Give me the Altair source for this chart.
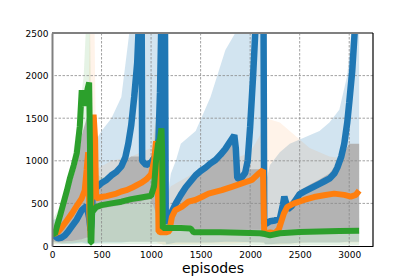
import altair as alt
import pandas as pd

x_ticks = [0, 500, 1000, 1500, 2000, 2500, 3000]
y_ticks = [0, 500, 1000, 1500, 2000, 2500]

# ---- mean curves ----
blue_ep = [0, 30, 60, 100, 130, 160, 200, 250, 300, 350, 375, 390, 400, 410, 450, 500, 550, 600, 650, 700,
           740, 770, 800, 830, 860, 880, 905, 910, 950, 1000, 1040, 1075, 1090, 1105, 1140, 1148, 1160, 1200,
           1250, 1300, 1350, 1400, 1450, 1500, 1550, 1600, 1650, 1700, 1750, 1800, 1840, 1855, 1870, 1900,
           1950, 1975, 2000, 2030, 2060, 2135, 2142, 2160, 2200, 2250, 2300, 2330, 2345, 2380, 2420, 2500,
           2550, 2600, 2650, 2700, 2750, 2800, 2850, 2880, 2920, 2950, 2980, 3000, 3030, 3060, 3100]
blue_val = [130, 115, 90, 100, 125, 165, 230, 310, 420, 470, 330, 180, 300, 620, 690, 740, 775, 830, 870, 935,
            1040, 1200, 1420, 1750, 2150, 2700, 2700, 1000, 950, 980, 1050, 1250, 1800, 2700, 2700, 300, 270, 380,
            500, 600, 690, 760, 830, 880, 920, 970, 1010, 1070, 1140, 1230, 1300, 1150, 800, 780,
            860, 1000, 1400, 2000, 2700, 2700, 260, 260, 290, 300, 320, 480, 580, 430, 470, 610,
            640, 670, 700, 730, 760, 790, 850, 920, 1050, 1200, 1450, 1680, 2050, 2600, 2700]

orange_ep = [0, 30, 60, 100, 150, 200, 250, 300, 330, 350, 365, 378, 392, 405, 420, 435, 445, 500, 550, 600,
             650, 700, 750, 800, 850, 900, 950, 1000, 1030, 1050, 1065, 1075, 1100, 1150, 1185, 1210, 1243,
             1310, 1377, 1445, 1512, 1580, 1647, 1714, 1815, 1916, 2017, 2085, 2130, 2142, 2160, 2200, 2250,
             2290, 2340, 2375, 2443, 2545, 2645, 2746, 2848, 2950, 3016, 3067, 3100]
orange_val = [160, 145, 165, 220, 300, 380, 470, 560, 650, 900, 1100, 350, 100, 1400, 1540, 1250, 560, 575, 585, 600,
              615, 640, 655, 680, 710, 740, 780, 840, 1000, 1230, 1100, 170, 160, 160, 175, 340, 420,
              460, 520, 540, 575, 615, 635, 655, 695, 735, 775, 850, 890, 150, 150, 160, 150,
              200, 380, 460, 500, 540, 575, 595, 615, 600, 580, 600, 650]

green_ep = [0, 30, 50, 80, 115, 150, 182, 220, 250, 280, 300, 310, 325, 345, 360, 375, 383, 390, 397, 405, 450,
            500, 600, 700, 800, 900, 1000, 1030, 1050, 1070, 1090, 1105, 1112, 1118, 1150, 1200, 1300, 1400,
            1430, 1500, 1700, 1900, 2100, 2150, 2200, 2300, 2500, 2700, 2900, 3100]
green_val = [150, 140, 230, 350, 500, 650, 800, 950, 1090, 1400, 1830, 1700, 1650, 1750, 1850, 1920, 1200, 40, 40, 400, 460,
             480, 500, 520, 550, 570, 590, 700, 1000, 1200, 1250, 1380, 1100, 210, 215, 210, 210, 205,
             160, 160, 160, 155, 150, 140, 125, 150, 165, 170, 175, 180]

# ---- light envelopes ----
blue_env_ep = [0, 100, 200, 300, 380, 420, 500, 600, 700, 780, 1145, 1155, 1200, 1250, 1300, 1450, 1600, 1750, 1850,
               2140, 2150, 2200, 2300, 2400, 2500, 2600, 2700, 2800, 2900, 2980, 3020, 3100]
blue_env_hi = [300, 350, 600, 900, 1100, 1200, 1350, 1500, 1750, 2500, 2500, 500, 850, 1000, 1200, 1350, 1750, 2300, 2500,
               2500, 700, 950, 1100, 1200, 1250, 1300, 1350, 1450, 1600, 2000, 2500, 2500]
blue_env_lo = [50, 30, 30, 40, 20, 30, 40, 40, 40, 50, 50, 20, 30, 40, 40, 40, 40, 50, 50,
               40, 20, 20, 30, 30, 40, 40, 40, 40, 40, 50, 50, 50]

orange_env_ep = [0, 100, 200, 300, 360, 380, 430, 445, 600, 800, 1000, 1050, 1080, 1100, 1200, 1500, 1800, 2000, 2100,
                 2145, 2160, 2300, 2450, 2600, 2800, 3100]
orange_env_hi = [250, 350, 600, 800, 1100, 2500, 2500, 900, 1000, 1050, 1150, 1500, 1500, 500, 700, 900, 1000, 1100, 1300,
                 1500, 1500, 1450, 1300, 1150, 1050, 1000]
orange_env_lo = [30, 30, 40, 50, 50, 50, 50, 50, 50, 50, 50, 50, 30, 20, 20, 30, 30, 40, 40,
                 30, 20, 20, 30, 40, 40, 40]

green_env_ep = [0, 100, 200, 280, 320, 340, 385, 400, 500, 1000, 1050, 1110, 1120, 1400, 1440, 2150, 2200, 3100]
green_env_hi = [300, 500, 1000, 1600, 2000, 2500, 2500, 900, 800, 900, 1500, 1600, 400, 380, 320, 320, 300, 330]
green_env_lo = [20, 20, 20, 20, 20, 20, 20, 20, 20, 20, 20, 20, 10, 10, 10, 10, 10, 10]

# ---- grey spread band ----
grey_ep = [0, 60, 100, 150, 200, 250, 300, 350, 380, 405, 450, 500, 600, 700, 740, 800, 900, 910, 1000, 1075, 1110,
           1150, 1200, 1300, 1400, 1450, 1500, 1600, 1700, 1800, 1850, 1870, 1950, 2000, 2140, 2150, 2200, 2300,
           2340, 2400, 2500, 2600, 2700, 2800, 2900, 2950, 3000, 3100]
grey_lo = [60, 50, 50, 60, 60, 70, 80, 100, 100, 380, 420, 440, 460, 480, 490, 500, 520, 530, 550, 300, 200,
           230, 250, 250, 240, 200, 190, 190, 190, 190, 190, 190, 190, 190, 190, 170, 160, 180,
           190, 190, 200, 200, 200, 200, 200, 200, 200, 200]
grey_hi = [150, 200, 320, 560, 760, 950, 1300, 1500, 1400, 600, 680, 730, 820, 920, 1000, 1050, 1050, 980, 970, 1050, 1000,
           300, 380, 600, 760, 830, 880, 970, 1070, 1230, 1200, 800, 860, 900, 900, 260, 290, 320,
           580, 520, 650, 720, 780, 850, 1000, 1100, 1200, 1200]

BLUE, ORANGE, GREEN = "#1f77b4", "#ff7f0e", "#2ca02c"

X = alt.Scale(domain=[0, 3240], nice=False, zero=False)
Y = alt.Scale(domain=[0, 2500], nice=False)

X_AXIS = alt.Axis(title="episodes", values=x_ticks, format="d", grid=False, ticks=False, domain=True,
                  domainColor="black", domainWidth=1.2, labelFlush=False, labelPadding=4,
                  titlePadding=2, zindex=1)
Y_AXIS = alt.Axis(title=None, values=y_ticks, format="d", grid=False, ticks=False, domain=True,
                  domainColor="#808080", domainWidth=2, labelPadding=4, zindex=1)


def xe(field):
    return alt.X(field, scale=X, axis=X_AXIS)


def ye(field):
    return alt.Y(field, scale=Y, axis=Y_AXIS)


def line_df(ep, val):
    return pd.DataFrame({"episode": ep, "value": val})


def band_df(ep, lo, hi):
    return pd.DataFrame({"episode": ep, "lo": lo, "hi": hi})


def band(df, color, opacity):
    return alt.Chart(df).mark_area(color=color, opacity=opacity, clip=True).encode(
        x=xe("episode:Q"), y=ye("lo:Q"), y2="hi:Q")


def line(df, color, w):
    return alt.Chart(df).mark_line(color=color, strokeWidth=w, clip=True, strokeJoin="bevel").encode(
        x=xe("episode:Q"), y=ye("value:Q"))


grid_x = alt.Chart(pd.DataFrame({"t": x_ticks[1:]})).mark_rule(
    color="#8a8a8a", strokeWidth=0.8, strokeDash=[2.5, 1.5]).encode(x=xe("t:Q"))
grid_y = alt.Chart(pd.DataFrame({"t": y_ticks[1:-1]})).mark_rule(
    color="#8a8a8a", strokeWidth=0.8, strokeDash=[2.5, 1.5]).encode(y=ye("t:Q"))

one = pd.DataFrame({"a": [0]})
top_spine = alt.Chart(one).mark_rule(color="#808080", strokeWidth=2).encode(y=alt.value(0))
right_spine = alt.Chart(one).mark_rule(color="black", strokeWidth=1.2).encode(x=alt.value(321))

chart = alt.layer(
    band(band_df(blue_env_ep, blue_env_lo, blue_env_hi), BLUE, 0.2),
    band(band_df(orange_env_ep, orange_env_lo, orange_env_hi), ORANGE, 0.09),
    band(band_df(green_env_ep, green_env_lo, green_env_hi), GREEN, 0.12),
    band(band_df(grey_ep, grey_lo, grey_hi), "#b3b3b3", 1.0),
    grid_x,
    grid_y,
    line(line_df(blue_ep, blue_val), BLUE, 6.5),
    line(line_df(orange_ep, orange_val), ORANGE, 6),
    line(line_df(green_ep, green_val), GREEN, 6),
    top_spine,
    right_spine,
).properties(
    width=321, height=213,
    padding={"left": 44, "top": 25, "right": 10, "bottom": 30},
    autosize=alt.AutoSizeParams(type="none"),
).configure_view(stroke=None).configure_axis(
    labelFont="DejaVu Sans", labelFontSize=9, labelColor="black",
    titleFont="DejaVu Sans", titleFontSize=14, titleFontWeight="normal", titleColor="black",
)

chart.save("out.html", embed_options={"renderer": "svg", "actions": False})
